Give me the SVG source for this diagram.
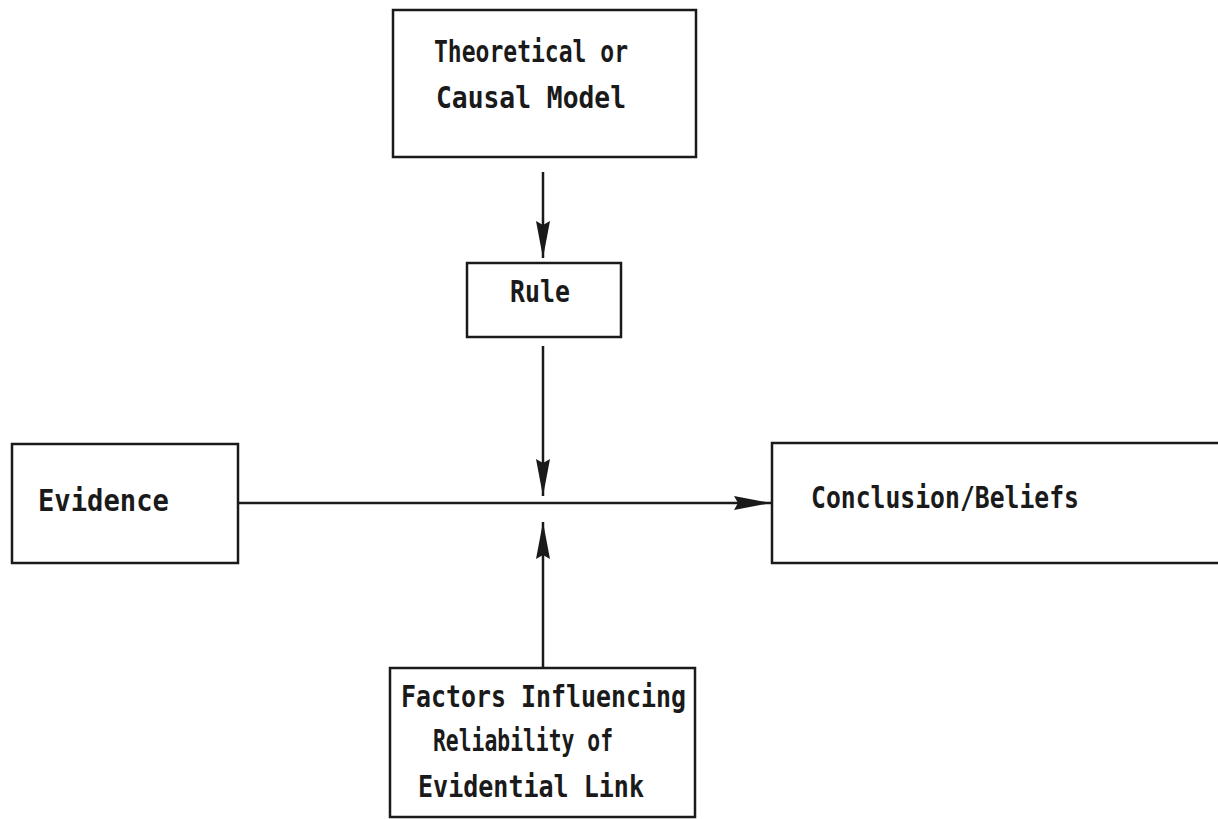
<svg xmlns="http://www.w3.org/2000/svg" width="1218" height="819" viewBox="0 0 1218 819">
<style>
.box{fill:#fff;stroke:#1a1a1a;stroke-width:2.5}
.lbl{font-family:"DejaVu Sans Mono","Liberation Mono",monospace;font-size:30px;font-weight:bold;fill:#1a1a1a}
.conn{stroke:#1a1a1a;stroke-width:2.5;fill:none}
</style>
<defs>
<marker id="ah" markerUnits="userSpaceOnUse" markerWidth="38" markerHeight="16" refX="37" refY="8" orient="auto">
<path d="M0,1 L37,8 L0,15 L4,8 z" fill="#1a1a1a"/>
</marker>
</defs>
<rect width="1218" height="819" fill="#fff"/>
<g id="connectors">
<line class="conn" x1="543" y1="172" x2="543" y2="258" marker-end="url(#ah)"/>
<line class="conn" x1="543" y1="346" x2="543" y2="496" marker-end="url(#ah)"/>
<line class="conn" x1="543" y1="668" x2="543" y2="522" marker-end="url(#ah)"/>
<line class="conn" x1="238" y1="503" x2="771" y2="503" marker-end="url(#ah)"/>
</g>
<g id="theory">
<rect class="box" x="393" y="10" width="303" height="147"/>
<text class="lbl" x="434" y="62" textLength="194" lengthAdjust="spacingAndGlyphs">Theoretical or</text>
<text class="lbl" x="436" y="108" textLength="190" lengthAdjust="spacingAndGlyphs">Causal Model</text>
</g>
<g id="rule">
<rect class="box" x="467" y="263" width="154" height="74"/>
<text class="lbl" x="510" y="302" textLength="60" lengthAdjust="spacingAndGlyphs">Rule</text>
</g>
<g id="evidence">
<rect class="box" x="12" y="444" width="226" height="119"/>
<text class="lbl" x="38" y="511" textLength="131" lengthAdjust="spacingAndGlyphs">Evidence</text>
</g>
<g id="conclusion">
<rect class="box" x="772" y="443" width="470" height="120"/>
<text class="lbl" x="811" y="508" textLength="268" lengthAdjust="spacingAndGlyphs">Conclusion/Beliefs</text>
</g>
<g id="factors">
<rect class="box" x="390" y="668" width="305" height="149"/>
<text class="lbl" x="401" y="707" textLength="285" lengthAdjust="spacingAndGlyphs">Factors Influencing</text>
<text class="lbl" x="433" y="751" textLength="180" lengthAdjust="spacingAndGlyphs">Reliability of</text>
<text class="lbl" x="418" y="797" textLength="226" lengthAdjust="spacingAndGlyphs">Evidential Link</text>
</g>
</svg>
